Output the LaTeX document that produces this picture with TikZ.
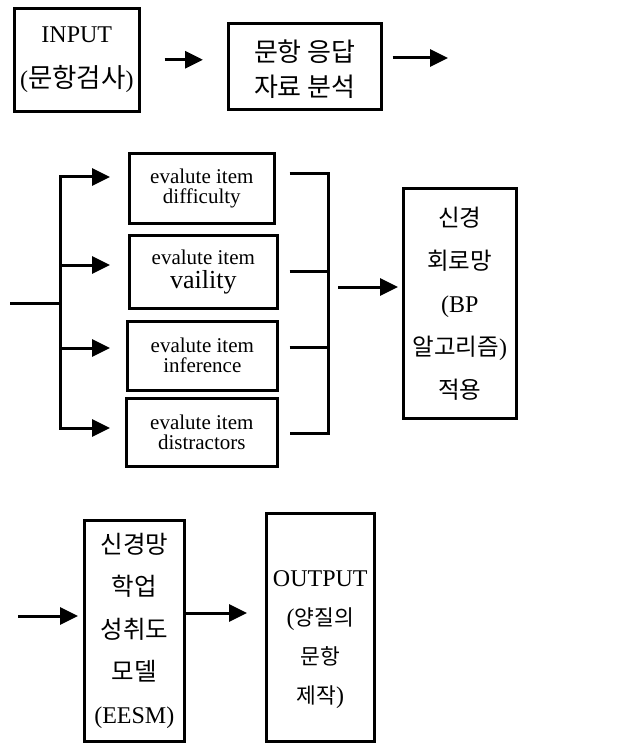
\documentclass[tikz,border=0pt]{standalone}
\usepackage{fontspec}
\setmainfont{Liberation Serif}
\newfontfamily\korfont{Noto Sans CJK KR}
\newcommand\krs[2]{{\korfont\fontsize{#1}{\baselineskip}\selectfont #2}}
\usetikzlibrary{arrows.meta}
\begin{document}
\begin{tikzpicture}[x=1pt,y=-1pt,
  box/.style={draw,line width=2.6pt,inner sep=0pt,anchor=north west,align=center},
  conn/.style={line width=3pt},
  arr/.style={line width=3pt,-{Triangle[length=18pt,width=17pt]}},
  small/.style={font=\fontsize{21}{20}\selectfont}]
\useasboundingbox (0,0) rectangle (617,743);
% row 1
\node[box,font=\fontsize{24}{45}\selectfont,minimum width=125pt,minimum height=103pt] (in) at (13,7) {INPUT\\(\krs{26.5}{문항검사})};
\node[box,font=\fontsize{24}{35}\selectfont,minimum width=153pt,minimum height=86pt] (ra) at (227,22) {\rule{0pt}{28pt}\krs{26}{문항 응답}\\\krs{26}{자료 분석}};
\draw[arr,shorten <=24pt,shorten >=24pt] (in.east) -- (in.east -| ra.west);
\coordinate (e1) at (448,58);
\draw[arr,shorten <=10pt] (ra.east |- e1) -- (e1);
% row 2
\node[box,small,minimum width=145pt,minimum height=70pt] (ea) at (128,152) {evalute item\\difficulty};
\node[box,small,minimum width=148pt,minimum height=73pt] (eb) at (128,234) {evalute item\\[4pt]{\fontsize{26}{26}\selectfont vaility}};
\node[box,small,minimum width=150pt,minimum height=69pt] (ec) at (126,320) {evalute item\\inference};
\node[box,small,minimum width=151pt,minimum height=68pt] (ed) at (125,397) {evalute item\\distractors};
\node[box,font=\fontsize{24}{43}\selectfont,minimum width=113pt,minimum height=230pt] (nn) at (402,187) {\krs{23.5}{신경}\\\krs{23.5}{회로망}\\(BP\\\krs{23.5}{알고리즘})\\\krs{23.5}{적용}};
% left fork
\coordinate (s) at (10,303);
\coordinate (sp) at (60,303);
\coordinate (b1) at (60,177);
\coordinate (b2) at (60,265);
\coordinate (b3) at (60,348);
\coordinate (b4) at (60,428);
\draw[conn] (s) -- (sp);
\draw[conn,line cap=rect] (b1) -- (b4);
\draw[arr,shorten >=18pt] (b1) -- (b1 -| ea.west);
\draw[arr,shorten >=18pt] (b2) -- (b2 -| eb.west);
\draw[arr,shorten >=16pt] (b3) -- (b3 -| ec.west);
\draw[arr,shorten >=15pt] (b4) -- (b4 -| ed.west);
% right bracket
\coordinate (r1) at (328,174);
\coordinate (r2) at (328,271);
\coordinate (r3) at (328,347);
\coordinate (r4) at (328,433);
\coordinate (rm) at (328,287);
\draw[conn,shorten <=14pt,shorten >=11pt] (ea.east |- r1) -- (r1) -- (r4) -- (ed.east |- r4);
\draw[conn,shorten <=11pt] (eb.east |- r2) -- (r2);
\draw[conn,shorten <=11pt] (ec.east |- r3) -- (r3);
\draw[arr,shorten <=10pt,shorten >=4pt] (rm) -- (rm -| nn.west);
% row 3
\node[box,font=\fontsize{24}{42.5}\selectfont,minimum width=100pt,minimum height=221pt] (es) at (83,519) {\krs{24.5}{신경망}\\\krs{24.5}{학업}\\\krs{24.5}{성취도}\\\krs{24.5}{모델}\\(EESM)};
\node[box,font=\fontsize{24}{39}\selectfont,minimum width=108pt,minimum height=228pt] (out) at (265,512) {\rule{0pt}{40pt}OUTPUT\\(\krs{21.5}{양질의}\\\krs{21.5}{문항}\\\krs{21.5}{제작})};
\coordinate (s3) at (18,616);
\draw[arr,shorten >=5pt] (s3) -- (s3 -| es.west);
\coordinate (a3) at (185,613);
\draw[arr,shorten >=18pt] (a3) -- (a3 -| out.west);
\end{tikzpicture}
\end{document}
